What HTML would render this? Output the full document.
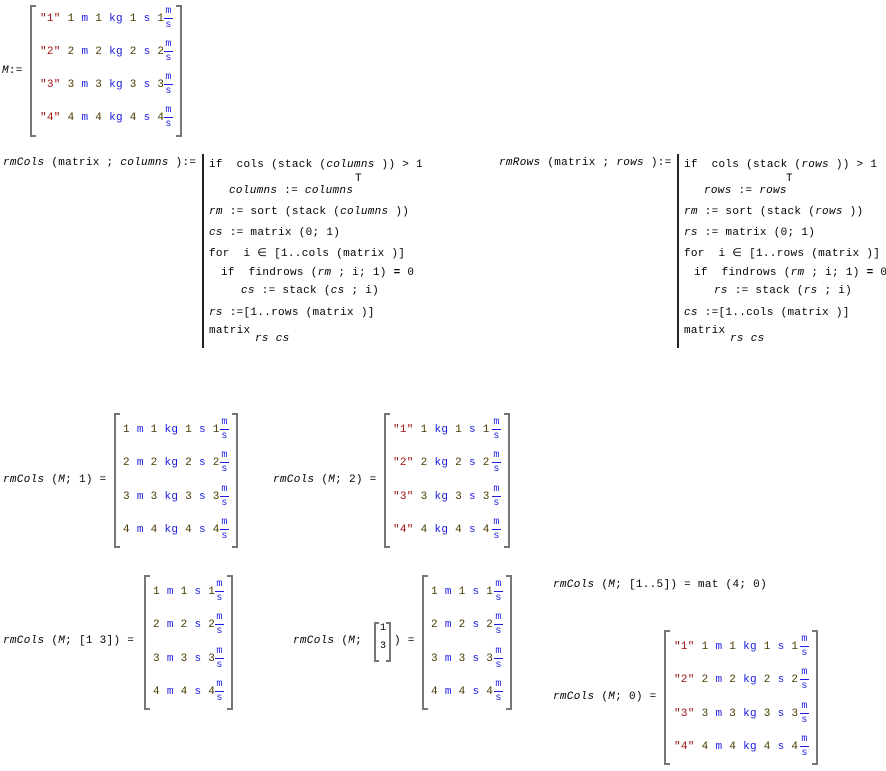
<!DOCTYPE html>
<html><head><meta charset="utf-8"><style>
body{margin:0;width:886px;height:771px;background:#fff;position:relative;overflow:hidden;font:11px "Liberation Mono",monospace;color:#000;letter-spacing:0.3px}
.t{position:absolute;white-space:pre;line-height:14px}
.i{font-style:italic}
.s{color:#a01010}.n{color:#4a3a00}.u{color:#1a1ae0}
.bl,.br{position:absolute;width:4px;border:2px solid #777}
.bl{border-right:none}.br{border-left:none}
.bar{position:absolute;width:2px;background:#222}
.fr{position:absolute;width:9px;text-align:center;color:#1a1ae0;font-size:10px;line-height:11px}
.fr i{display:block;height:1px;background:#1a1ae0;margin:1px 0}
.fr b{font-weight:normal;display:block}
</style></head><body>

<!-- M -->
<div class="t i" style="left:2px;top:64px">M<span style="font-style:normal">:=</span></div>
<div class="bl" style="left:30px;top:5px;height:128px"></div>
<div class="br" style="left:176px;top:5px;height:128px"></div>
<div class="t" style="left:40px;top:12px"><span class="s">"1"</span> <span class="n">1</span> <span class="u">m</span> <span class="n">1</span> <span class="u">kg</span> <span class="n">1</span> <span class="u">s</span> <span class="n">1</span></div>
<div class="t" style="left:40px;top:45px"><span class="s">"2"</span> <span class="n">2</span> <span class="u">m</span> <span class="n">2</span> <span class="u">kg</span> <span class="n">2</span> <span class="u">s</span> <span class="n">2</span></div>
<div class="t" style="left:40px;top:78px"><span class="s">"3"</span> <span class="n">3</span> <span class="u">m</span> <span class="n">3</span> <span class="u">kg</span> <span class="n">3</span> <span class="u">s</span> <span class="n">3</span></div>
<div class="t" style="left:40px;top:111px"><span class="s">"4"</span> <span class="n">4</span> <span class="u">m</span> <span class="n">4</span> <span class="u">kg</span> <span class="n">4</span> <span class="u">s</span> <span class="n">4</span></div>
<div class="fr" style="left:164px;top:6px"><b>m</b><i></i><b>s</b></div>
<div class="fr" style="left:164px;top:39px"><b>m</b><i></i><b>s</b></div>
<div class="fr" style="left:164px;top:72px"><b>m</b><i></i><b>s</b></div>
<div class="fr" style="left:164px;top:105px"><b>m</b><i></i><b>s</b></div>

<!-- rmCols def -->
<div class="t" style="left:3px;top:156px"><span class="i">rmCols</span> (matrix ; <span class="i">columns</span> ):=</div>
<div class="bar" style="left:202px;top:154px;height:194px"></div>
<div class="t" style="left:209px;top:158px">if  cols (stack (<span class="i">columns</span> )) &gt; 1</div>
<div class="t" style="left:229px;top:184px"><span class="i">columns</span> := <span class="i">columns</span></div>
<div class="t" style="left:355px;top:172px">T</div>
<div class="t" style="left:209px;top:205px"><span class="i">rm</span> := sort (stack (<span class="i">columns</span> ))</div>
<div class="t" style="left:209px;top:226px"><span class="i">cs</span> := matrix (0; 1)</div>
<div class="t" style="left:209px;top:247px">for  i ∈ [1..cols (matrix )]</div>
<div class="t" style="left:221px;top:266px">if  findrows (<span class="i">rm</span> ; i; 1) <b>=</b> 0</div>
<div class="t" style="left:241px;top:284px"><span class="i">cs</span> := stack (<span class="i">cs</span> ; i)</div>
<div class="t" style="left:209px;top:306px"><span class="i">rs</span> :=[1..rows (matrix )]</div>
<div class="t" style="left:209px;top:324px">matrix</div>
<div class="t i" style="left:255px;top:332px">rs cs</div>

<!-- rmRows def -->
<div class="t" style="left:499px;top:156px"><span class="i">rmRows</span> (matrix ; <span class="i">rows</span> ):=</div>
<div class="bar" style="left:677px;top:154px;height:194px"></div>
<div class="t" style="left:684px;top:158px">if  cols (stack (<span class="i">rows</span> )) &gt; 1</div>
<div class="t" style="left:704px;top:184px"><span class="i">rows</span> := <span class="i">rows</span></div>
<div class="t" style="left:786px;top:172px">T</div>
<div class="t" style="left:684px;top:205px"><span class="i">rm</span> := sort (stack (<span class="i">rows</span> ))</div>
<div class="t" style="left:684px;top:226px"><span class="i">rs</span> := matrix (0; 1)</div>
<div class="t" style="left:684px;top:247px">for  i ∈ [1..rows (matrix )]</div>
<div class="t" style="left:694px;top:266px">if  findrows (<span class="i">rm</span> ; i; 1) <b>=</b> 0</div>
<div class="t" style="left:714px;top:284px"><span class="i">rs</span> := stack (<span class="i">rs</span> ; i)</div>
<div class="t" style="left:684px;top:306px"><span class="i">cs</span> :=[1..cols (matrix )]</div>
<div class="t" style="left:684px;top:324px">matrix</div>
<div class="t i" style="left:730px;top:332px">rs cs</div>

<!-- rmCols(M;1) -->
<div class="t" style="left:3px;top:473px"><span class="i">rmCols</span> (<span class="i">M</span>; 1) =</div>
<div class="bl" style="left:114px;top:413px;height:131px"></div>
<div class="br" style="left:232px;top:413px;height:131px"></div>
<div class="t n" style="left:123px;top:423px">1 <span class="u">m</span> 1 <span class="u">kg</span> 1 <span class="u">s</span> 1</div>
<div class="t n" style="left:123px;top:456px">2 <span class="u">m</span> 2 <span class="u">kg</span> 2 <span class="u">s</span> 2</div>
<div class="t n" style="left:123px;top:490px">3 <span class="u">m</span> 3 <span class="u">kg</span> 3 <span class="u">s</span> 3</div>
<div class="t n" style="left:123px;top:523px">4 <span class="u">m</span> 4 <span class="u">kg</span> 4 <span class="u">s</span> 4</div>
<div class="fr" style="left:220px;top:417px"><b>m</b><i></i><b>s</b></div>
<div class="fr" style="left:220px;top:450px"><b>m</b><i></i><b>s</b></div>
<div class="fr" style="left:220px;top:484px"><b>m</b><i></i><b>s</b></div>
<div class="fr" style="left:220px;top:517px"><b>m</b><i></i><b>s</b></div>

<!-- rmCols(M;2) -->
<div class="t" style="left:273px;top:473px"><span class="i">rmCols</span> (<span class="i">M</span>; 2) =</div>
<div class="bl" style="left:384px;top:413px;height:131px"></div>
<div class="br" style="left:504px;top:413px;height:131px"></div>
<div class="t n" style="left:393px;top:423px"><span class="s">"1"</span> 1 <span class="u">kg</span> 1 <span class="u">s</span> 1</div>
<div class="t n" style="left:393px;top:456px"><span class="s">"2"</span> 2 <span class="u">kg</span> 2 <span class="u">s</span> 2</div>
<div class="t n" style="left:393px;top:490px"><span class="s">"3"</span> 3 <span class="u">kg</span> 3 <span class="u">s</span> 3</div>
<div class="t n" style="left:393px;top:523px"><span class="s">"4"</span> 4 <span class="u">kg</span> 4 <span class="u">s</span> 4</div>
<div class="fr" style="left:492px;top:417px"><b>m</b><i></i><b>s</b></div>
<div class="fr" style="left:492px;top:450px"><b>m</b><i></i><b>s</b></div>
<div class="fr" style="left:492px;top:484px"><b>m</b><i></i><b>s</b></div>
<div class="fr" style="left:492px;top:517px"><b>m</b><i></i><b>s</b></div>

<!-- rmCols(M;[1 3]) -->
<div class="t" style="left:3px;top:634px"><span class="i">rmCols</span> (<span class="i">M</span>; [1 3]) =</div>
<div class="bl" style="left:144px;top:575px;height:131px"></div>
<div class="br" style="left:227px;top:575px;height:131px"></div>
<div class="t n" style="left:153px;top:585px">1 <span class="u">m</span> 1 <span class="u">s</span> 1</div>
<div class="t n" style="left:153px;top:618px">2 <span class="u">m</span> 2 <span class="u">s</span> 2</div>
<div class="t n" style="left:153px;top:652px">3 <span class="u">m</span> 3 <span class="u">s</span> 3</div>
<div class="t n" style="left:153px;top:685px">4 <span class="u">m</span> 4 <span class="u">s</span> 4</div>
<div class="fr" style="left:215px;top:579px"><b>m</b><i></i><b>s</b></div>
<div class="fr" style="left:215px;top:612px"><b>m</b><i></i><b>s</b></div>
<div class="fr" style="left:215px;top:646px"><b>m</b><i></i><b>s</b></div>
<div class="fr" style="left:215px;top:679px"><b>m</b><i></i><b>s</b></div>

<!-- rmCols(M;[1;3]) -->
<div class="t" style="left:293px;top:634px"><span class="i">rmCols</span> (<span class="i">M</span>;</div>
<div class="bl" style="left:374px;top:622px;height:36px;width:3px"></div>
<div class="br" style="left:386px;top:622px;height:36px;width:3px"></div>
<div class="t" style="left:380px;top:622px;font-size:10px">1</div>
<div class="t" style="left:380px;top:640px;font-size:10px">3</div>
<div class="t" style="left:394px;top:634px">) =</div>
<div class="bl" style="left:422px;top:575px;height:131px"></div>
<div class="br" style="left:506px;top:575px;height:131px"></div>
<div class="t n" style="left:431px;top:585px">1 <span class="u">m</span> 1 <span class="u">s</span> 1</div>
<div class="t n" style="left:431px;top:618px">2 <span class="u">m</span> 2 <span class="u">s</span> 2</div>
<div class="t n" style="left:431px;top:652px">3 <span class="u">m</span> 3 <span class="u">s</span> 3</div>
<div class="t n" style="left:431px;top:685px">4 <span class="u">m</span> 4 <span class="u">s</span> 4</div>
<div class="fr" style="left:494px;top:579px"><b>m</b><i></i><b>s</b></div>
<div class="fr" style="left:494px;top:612px"><b>m</b><i></i><b>s</b></div>
<div class="fr" style="left:494px;top:646px"><b>m</b><i></i><b>s</b></div>
<div class="fr" style="left:494px;top:679px"><b>m</b><i></i><b>s</b></div>

<!-- rmCols(M;[1..5]) -->
<div class="t" style="left:553px;top:578px"><span class="i">rmCols</span> (<span class="i">M</span>; [1..5]) = mat (4; 0)</div>

<!-- rmCols(M;0) -->
<div class="t" style="left:553px;top:690px"><span class="i">rmCols</span> (<span class="i">M</span>; 0) =</div>
<div class="bl" style="left:664px;top:630px;height:131px"></div>
<div class="br" style="left:812px;top:630px;height:131px"></div>
<div class="t n" style="left:674px;top:640px"><span class="s">"1"</span> 1 <span class="u">m</span> 1 <span class="u">kg</span> 1 <span class="u">s</span> 1</div>
<div class="t n" style="left:674px;top:673px"><span class="s">"2"</span> 2 <span class="u">m</span> 2 <span class="u">kg</span> 2 <span class="u">s</span> 2</div>
<div class="t n" style="left:674px;top:707px"><span class="s">"3"</span> 3 <span class="u">m</span> 3 <span class="u">kg</span> 3 <span class="u">s</span> 3</div>
<div class="t n" style="left:674px;top:740px"><span class="s">"4"</span> 4 <span class="u">m</span> 4 <span class="u">kg</span> 4 <span class="u">s</span> 4</div>
<div class="fr" style="left:800px;top:634px"><b>m</b><i></i><b>s</b></div>
<div class="fr" style="left:800px;top:667px"><b>m</b><i></i><b>s</b></div>
<div class="fr" style="left:800px;top:701px"><b>m</b><i></i><b>s</b></div>
<div class="fr" style="left:800px;top:734px"><b>m</b><i></i><b>s</b></div>
</body></html>
